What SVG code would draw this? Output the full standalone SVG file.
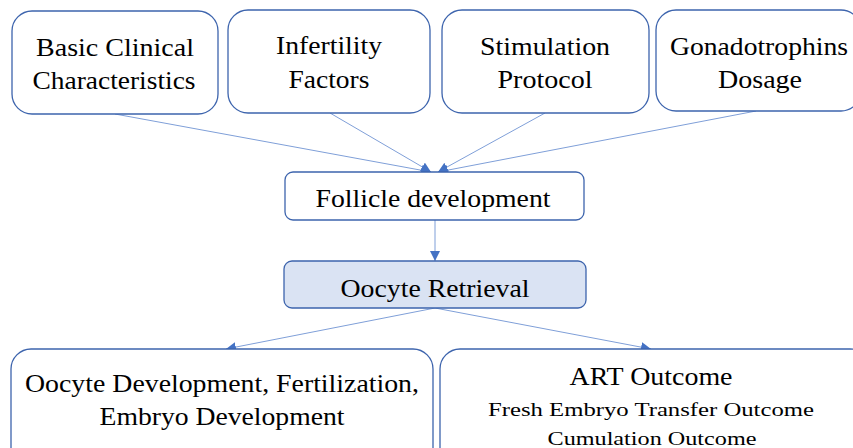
<svg xmlns="http://www.w3.org/2000/svg" width="853" height="448" viewBox="0 0 853 448">
<style>
.box{fill:#fff;stroke:#3d64ad;stroke-width:1.3}
.hl{fill:#dae3f3;stroke:#3d64ad;stroke-width:1.3}
text{font-family:'Liberation Serif','DejaVu Serif',serif;font-size:25px;fill:#000;text-anchor:middle}
.s{font-size:19px}
.c{stroke:#7f9fd8;stroke-width:1;fill:none;marker-end:url(#ah)}
</style>
<defs>
<marker id="ah" viewBox="0 0 10 10" refX="10" refY="5" markerWidth="10" markerHeight="10" markerUnits="userSpaceOnUse" orient="auto">
<path d="M0,0 L10,5 L0,10 Z" fill="#4472c4"/>
</marker>
</defs>
<rect width="853" height="448" fill="#fff"/>
<g id="connectors">
<line class="c" x1="115" y1="114" x2="431" y2="172"/>
<line class="c" x1="330" y1="113" x2="431" y2="172"/>
<line class="c" x1="545" y1="113" x2="438" y2="172"/>
<line class="c" x1="756" y1="111" x2="438" y2="172"/>
<line class="c" x1="435" y1="220" x2="435" y2="261"/>
<line class="c" x1="435" y1="308" x2="226" y2="349"/>
<line class="c" x1="435" y1="308" x2="651" y2="349"/>
</g>
<g id="basic">
<rect class="box" x="12" y="11" width="206" height="103" rx="20"/>
<text x="115" y="56" textLength="158" lengthAdjust="spacingAndGlyphs">Basic Clinical</text>
<text x="114" y="89" textLength="163" lengthAdjust="spacingAndGlyphs">Characteristics</text>
</g>
<g id="infertility">
<rect class="box" x="228" y="10" width="202" height="103" rx="20"/>
<text x="329" y="54" textLength="106" lengthAdjust="spacingAndGlyphs">Infertility</text>
<text x="329" y="88" textLength="81" lengthAdjust="spacingAndGlyphs">Factors</text>
</g>
<g id="stimulation">
<rect class="box" x="442" y="10" width="207" height="103" rx="20"/>
<text x="545" y="55" textLength="130" lengthAdjust="spacingAndGlyphs">Stimulation</text>
<text x="545" y="88" textLength="95" lengthAdjust="spacingAndGlyphs">Protocol</text>
</g>
<g id="gonadotrophins">
<rect class="box" x="656" y="10" width="205" height="101" rx="20"/>
<text x="759" y="55" textLength="178" lengthAdjust="spacingAndGlyphs">Gonadotrophins</text>
<text x="760" y="88" textLength="84" lengthAdjust="spacingAndGlyphs">Dosage</text>
</g>
<g id="follicle">
<rect class="box" x="285" y="172" width="299" height="48" rx="8"/>
<text x="433" y="207" textLength="235" lengthAdjust="spacingAndGlyphs">Follicle development</text>
</g>
<g id="retrieval">
<rect class="hl" x="284" y="261" width="302" height="47" rx="8"/>
<text x="435" y="297" textLength="189" lengthAdjust="spacingAndGlyphs">Oocyte Retrieval</text>
</g>
<g id="embryo">
<rect class="box" x="11" y="349" width="422" height="120" rx="20"/>
<text x="222" y="392" textLength="394" lengthAdjust="spacingAndGlyphs">Oocyte Development, Fertilization,</text>
<text x="222" y="425" textLength="245" lengthAdjust="spacingAndGlyphs">Embryo Development</text>
</g>
<g id="art">
<rect class="box" x="440" y="349" width="430" height="120" rx="20"/>
<text x="651" y="385" textLength="163" lengthAdjust="spacingAndGlyphs">ART Outcome</text>
<text class="s" x="651" y="416" textLength="326" lengthAdjust="spacingAndGlyphs">Fresh Embryo Transfer Outcome</text>
<text class="s" x="652" y="445" textLength="209" lengthAdjust="spacingAndGlyphs">Cumulation Outcome</text>
</g>
</svg>
